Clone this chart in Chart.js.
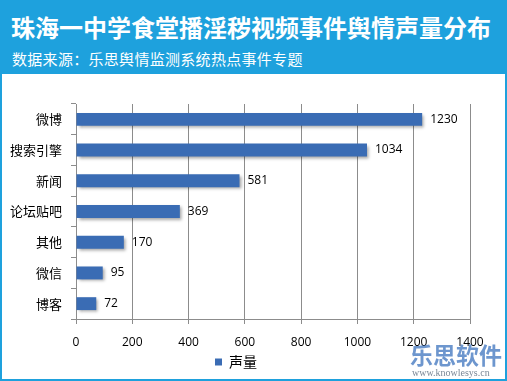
<!DOCTYPE html>
<html>
<head>
<meta charset="utf-8">
<script src="https://cdn.jsdelivr.net/npm/chart.js@4"></script>
<style>
  body { margin: 0; background: #fff; }
  #box { position: relative; width: 507px; height: 381px; background: #1ea1dd; box-sizing: border-box; }
  #title { position: absolute; left: 11px; top: 12px; color: #fff; font: bold 24px "Noto Sans CJK SC"; line-height: 30px; white-space: nowrap; }
  #sub { position: absolute; left: 12px; top: 49px; color: #fff; font: 15px "Noto Sans CJK SC"; line-height: 20px; white-space: nowrap; letter-spacing: 0.3px; }
  #wrap { position: absolute; left: 2px; top: 74px; width: 503px; height: 305px; background: #fff; }
</style>
</head>
<body>
<div id="box">
  <div id="title">珠海一中学食堂播淫秽视频事件舆情声量分布</div>
  <div id="sub">数据来源：乐思舆情监测系统热点事件专题</div>
  <div id="wrap"><canvas id="chart" width="503" height="305"></canvas></div>
</div>
<script>
const categories = ["微博", "搜索引擎", "新闻", "论坛贴吧", "其他", "微信", "博客"];
const volumes = [1230, 1034, 581, 369, 170, 95, 72];
const seriesName = "声量";
const xTicks = [0, 200, 400, 600, 800, 1000, 1200, 1400];

const barShadow = {
  id: "barShadow",
  beforeDatasetDraw(chart) {
    const ctx = chart.ctx;
    ctx.save();
    ctx.shadowColor = "rgba(0,0,0,0.35)";
    ctx.shadowOffsetX = 2;
    ctx.shadowOffsetY = 2;
    ctx.shadowBlur = 3;
  },
  afterDatasetDraw(chart) {
    chart.ctx.restore();
  }
};

const valueLabels = {
  id: "valueLabels",
  afterDatasetsDraw(chart) {
    const ctx = chart.ctx;
    const meta = chart.getDatasetMeta(0);
    ctx.save();
    ctx.font = "12px 'Open Sans'";
    ctx.fillStyle = "#000";
    ctx.textBaseline = "middle";
    meta.data.forEach((bar, i) => {
      ctx.fillText(volumes[i], bar.x + 8, bar.y);
    });
    ctx.restore();
  }
};

const watermark = {
  id: "watermark",
  afterDraw(chart) {
    const ctx = chart.ctx;
    ctx.save();
    ctx.fillStyle = "rgba(60,115,190,0.75)";
    ctx.font = "bold 23px 'Noto Sans CJK SC'";
    ctx.textBaseline = "alphabetic";
    ctx.fillText("乐思软件", 408, 290);
    ctx.fillStyle = "#7a8796";
    ctx.font = "10px 'Liberation Serif'";
    ctx.fillText("www.knowlesys.cn", 410, 302);
    ctx.restore();
  }
};

new Chart(document.getElementById("chart"), {
  type: "bar",
  data: {
    labels: categories,
    datasets: [{
      label: seriesName,
      data: volumes,
      backgroundColor: "#3a6cb4",
      barPercentage: 0.42,
      categoryPercentage: 1
    }]
  },
  options: {
    indexAxis: "y",
    responsive: false,
    animation: false,
    layout: { padding: { left: 0, right: 35, top: 30, bottom: 0 } },
    scales: {
      x: {
        min: 0,
        max: 1400,
        afterBuildTicks(scale) { scale.ticks = xTicks.map(v => ({ value: v })); },
        afterFit(scale) { scale.height = 34; },
        grid: { color: "#8c8c8c", tickLength: 5 },
        border: { color: "#8c8c8c" },
        ticks: {
          color: "#000", padding: 11, maxRotation: 0, autoSkip: false,
          font: { size: 12, family: "Open Sans" },
          callback: v => String(v)
        }
      },
      y: {
        afterFit(scale) { scale.width = 74; },
        grid: { drawOnChartArea: false, color: "#8c8c8c", tickLength: 5 },
        border: { color: "#8c8c8c" },
        ticks: { color: "#000", padding: 9, font: { size: 13, family: "Noto Sans CJK SC" } }
      }
    },
    plugins: {
      legend: {
        position: "bottom",
        labels: { color: "#000", boxWidth: 7, boxHeight: 7, padding: 2, font: { size: 14, family: "Noto Sans CJK SC" } }
      },
      tooltip: { enabled: false }
    }
  },
  plugins: [barShadow, valueLabels, watermark]
});
</script>
</body>
</html>
